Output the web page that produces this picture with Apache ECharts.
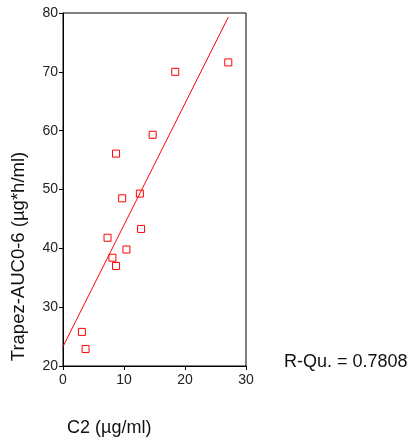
<!DOCTYPE html>
<html><head><meta charset="utf-8">
<script src="https://cdn.jsdelivr.net/npm/echarts@6/dist/echarts.min.js"></script>
<style>html,body{margin:0;padding:0;background:#fff}#c{width:410px;height:437px}</style>
</head><body><div id="c"></div>
<script>
const c2Values = [8.7, 14.7, 18.4, 27.1, 9.7, 12.6, 12.8, 7.3, 10.4, 8.1, 8.7, 3.1, 3.7];
const aucValues = [56.1, 59.3, 70.0, 71.6, 48.5, 49.3, 43.3, 41.8, 39.8, 38.4, 37.0, 25.8, 22.9];
const fitLineX = [0, 27.1];
const fitLineY = [23.3, 79.3];
const xTicks = [0, 10, 20, 30];
const yTicks = [20, 30, 40, 50, 60, 70, 80];
const rSquaredLabel = 'R-Qu. = 0.7808';

const font = 'Liberation Sans, Arial, sans-serif';
const chart = echarts.init(document.getElementById('c'));
chart.setOption({
  animation: false,
  grid: {left: 63, top: 13, width: 183, height: 353, show: true, borderColor: '#000', borderWidth: 1, backgroundColor: 'transparent'},
  title: [
    {text: rSquaredLabel, left: 279, top: 348, textStyle: {fontFamily: font, fontSize: 18, fontWeight: 'normal', color: '#111'}},
    {text: 'C2 (µg/ml)', left: 62, top: 414, textStyle: {fontFamily: font, fontSize: 18, fontWeight: 'normal', color: '#111'}}
  ],
  xAxis: {
    type: 'value', min: xTicks[0], max: xTicks[xTicks.length - 1], interval: 10,
    axisLine: {show: true, lineStyle: {color: '#000', width: 1}},
    axisTick: {show: true, length: 4, lineStyle: {color: '#000'}},
    axisLabel: {fontFamily: font, fontSize: 14, color: '#222', margin: 7},
    splitLine: {show: false}
  },
  yAxis: {
    type: 'value', min: yTicks[0], max: yTicks[yTicks.length - 1], interval: 10,
    name: 'Trapez-AUC0-6 (µg*h/ml)', nameLocation: 'middle', nameGap: 35,
    nameTextStyle: {fontFamily: font, fontSize: 18.5, color: '#111', padding: [0, 134, 0, 0]},
    axisLine: {show: true, lineStyle: {color: '#000', width: 1}},
    axisTick: {show: true, length: 4, lineStyle: {color: '#000'}},
    axisLabel: {fontFamily: font, fontSize: 14, color: '#222', margin: 5},
    splitLine: {show: false}
  },
  series: [
    {
      type: 'line', data: fitLineX.map((x, i) => [x, fitLineY[i]]),
      showSymbol: false, symbol: 'none', lineStyle: {color: '#ff0000', width: 1}, silent: true
    },
    {
      type: 'scatter', data: c2Values.map((x, i) => [x, aucValues[i]]),
      symbol: 'rect', symbolSize: 7,
      itemStyle: {color: '#fff', borderColor: '#ff0000', borderWidth: 1, opacity: 1}
    }
  ]
});
</script></body></html>
